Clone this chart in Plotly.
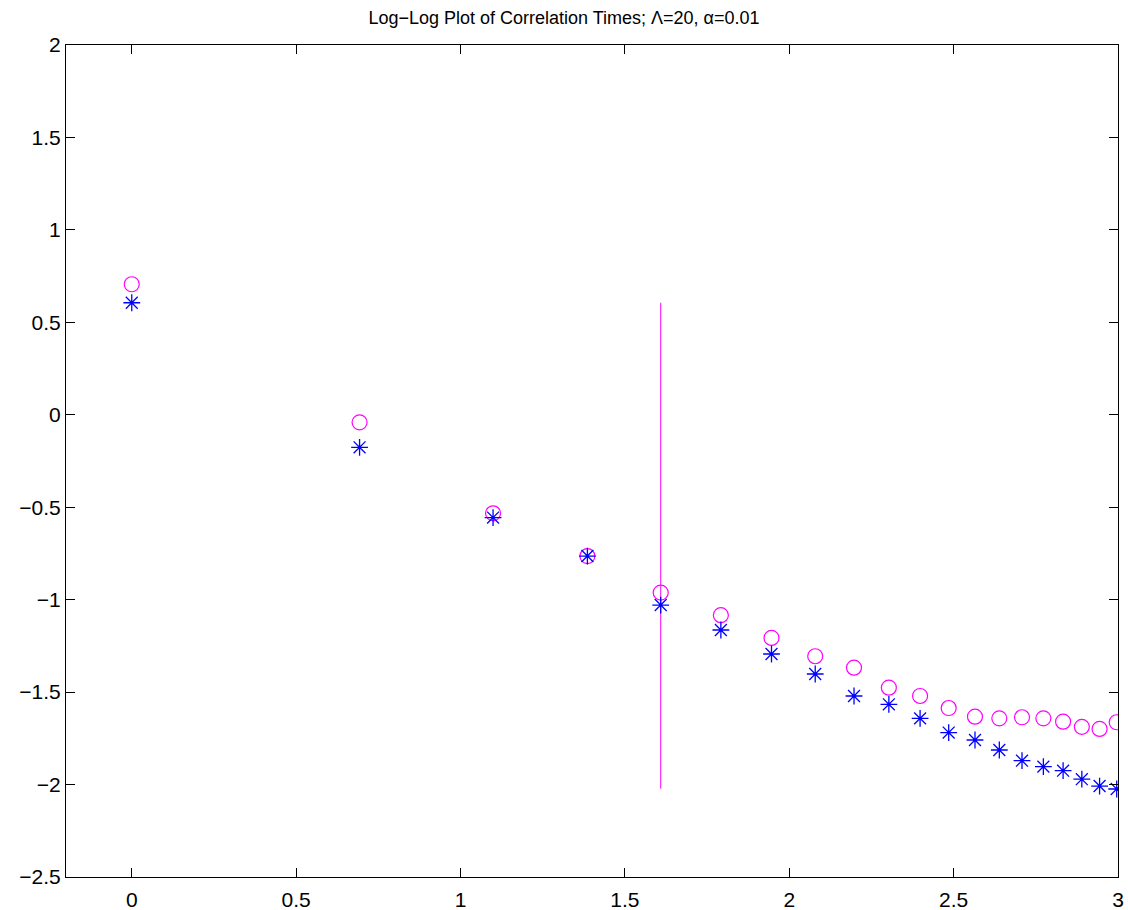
import plotly.graph_objects as go

# log(n) values along x
x_vals = [0.0, 0.693, 1.099, 1.386, 1.609, 1.792, 1.946, 2.079, 2.197, 2.303,
          2.398, 2.485, 2.565, 2.639, 2.708, 2.773, 2.833, 2.890, 2.944, 2.996]

# magenta open circles
circle_vals = [0.706, -0.041, -0.533, -0.764, -0.962, -1.084, -1.207, -1.306, -1.368, -1.476,
               -1.521, -1.586, -1.633, -1.642, -1.636, -1.642, -1.660, -1.688, -1.699, -1.663]

# blue asterisks
star_vals = [0.606, -0.176, -0.556, -0.764, -1.029, -1.164, -1.294, -1.402, -1.521, -1.566,
             -1.642, -1.719, -1.759, -1.813, -1.871, -1.903, -1.925, -1.971, -2.008, -2.024]

# vertical marker line position and extent
vline_x = [1.609, 1.609]
vline_y = [0.606, -2.022]

x_ticks = [0, 0.5, 1, 1.5, 2, 2.5, 3]
y_ticks = [-2.5, -2, -1.5, -1, -0.5, 0, 0.5, 1, 1.5, 2]

fig = go.Figure()
fig.add_trace(go.Scatter(x=vline_x, y=vline_y, mode="lines",
                         line=dict(color="#FF00FF", width=1), showlegend=False))
fig.add_trace(go.Scatter(x=x_vals, y=circle_vals, mode="markers",
                         marker=dict(symbol="circle-open", size=15, color="#FF00FF",
                                     line=dict(width=1.2, color="#FF00FF")),
                         showlegend=False))
fig.add_trace(go.Scatter(x=x_vals, y=star_vals, mode="markers",
                         marker=dict(symbol="asterisk-open", size=14, color="#0000FF",
                                     line=dict(width=1.3, color="#0000FF")),
                         showlegend=False))

axis_common = dict(showline=True, linecolor="black", linewidth=1, mirror="ticks",
                   ticks="inside", ticklen=9, tickcolor="black", tickwidth=1,
                   showgrid=False, zeroline=False, automargin=False,
                   tickfont=dict(family="Liberation Sans, Arial", size=21, color="black"))

fig.update_xaxes(range=[-0.2, 3], tickvals=x_ticks,
                 ticktext=[f"{v:g}" for v in x_ticks], ticklabelstandoff=4, **axis_common)
fig.update_yaxes(range=[-2.5, 2], tickvals=y_ticks,
                 ticktext=[f"{v:g}".replace("-", "\u2212") for v in y_ticks], **axis_common)

fig.update_layout(
    width=1128, height=910,
    margin=dict(l=66, r=10, t=45, b=33),
    paper_bgcolor="white", plot_bgcolor="white",
    title=dict(text="Log\u2212Log Plot of Correlation Times; \u039b=20, \u03b1=0.01",
               x=0.5, xref="container", xanchor="center", y=1 - 18 / 910, yanchor="middle",
               font=dict(family="Liberation Sans, Arial", size=18, color="black")),
    font=dict(family="Liberation Sans, Arial", color="black"),
)

fig.write_html("out.html")
